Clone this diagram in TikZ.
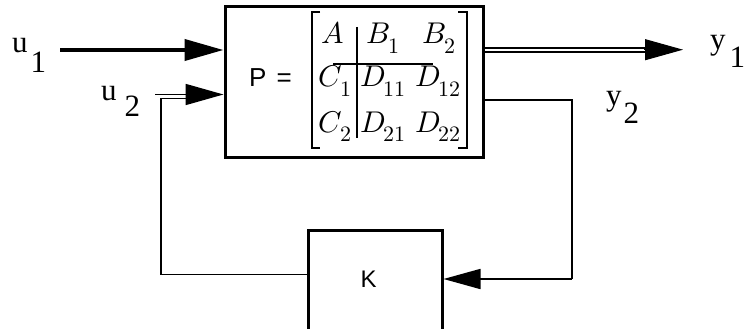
\documentclass[tikz,border=0pt]{standalone}
\usepackage{fontspec}
\setmainfont{Liberation Serif}
\newfontfamily\helv{Liberation Sans}
\usepackage{unicode-math}
\setmathfont{Latin Modern Math}
\usetikzlibrary{arrows.meta,calc}
\newcommand\msub[2]{$#1$\kern-1.5pt\raisebox{-9.5pt}{\fontsize{22}{22}\selectfont$#2$}}
\begin{document}
\begin{tikzpicture}[x=1pt,y=-1pt,
  blockbox/.style={draw,line width=3pt,inner sep=0pt},
  thinline/.style={line width=1.7pt},
  thickline/.style={line width=4pt},
  bigtip/.style={-{Triangle[length=39pt,width=21pt]}},
  ent/.style={anchor=base west,inner sep=0pt,font=\fontsize{30}{32}\selectfont},
  iolab/.style={anchor=base west,inner sep=0pt,font=\fontsize{31}{34}\selectfont},
  sanslab/.style={inner sep=0pt,font=\helv\fontsize{24}{28}\selectfont}]
\useasboundingbox (0,0) rectangle (747,329);
\clip (0,0) rectangle (747,329);
% blocks
\node[blockbox,minimum width=258pt,minimum height=150pt] (P) at (354,82) {};
\node[blockbox,minimum width=134pt,minimum height=140pt] (K) at (375,300.5) {};
\node[sanslab,anchor=base] (klab) at (368.5,287) {K};
\node[sanslab,anchor=base west,font=\helv\fontsize{26}{28}\selectfont] (plab) at (249,87) {P\hspace{10pt}=};
% matrix entries
\node[ent] (a)   at (321,44) {$A$};
\node[ent] (b1)  at (366,44) {\msub{B}{1}};
\node[ent] (b2)  at (422,44) {\msub{B}{2}};
\node[ent] (c1)  at (318,87) {\msub{C}{1}};
\node[ent] (d11) at (360,87) {\msub{D}{11}};
\node[ent] (d12) at (415,87) {\msub{D}{12}};
\node[ent] (c2)  at (318,132) {\msub{C}{2}};
\node[ent] (d21) at (360,132) {\msub{D}{21}};
\node[ent] (d22) at (415,132) {\msub{D}{22}};
% brackets and partition rules
\draw[line width=2pt] (320,12) -- (312,12) -- (312,148) -- (320,148);
\draw[line width=2pt] (458,12) -- (467,12) -- (467,148) -- (458,148);
\draw[line width=1.6pt] (357,27) -- (357,138);
\draw[line width=1.6pt] (333,64) -- (433,64);
% labels
\node[iolab] (u1) at (12,53) {u\hspace{3pt}\raisebox{-20pt}{1}};
\node[iolab] (u2) at (101,100) {u\hspace{8pt}\raisebox{-17pt}{2}};
\node[iolab] (y1) at (710,50) {y\hspace{4pt}\raisebox{-18pt}{1}};
\node[iolab] (y2) at (606,105) {y\hspace{2pt}\raisebox{-18pt}{2}};
% coordinates
\coordinate (u1s) at (60,50);
\coordinate (u2s) at (155,94.5);
\coordinate (fbc) at (161,98.5);
\coordinate (fbe) at (188,98.5);
\coordinate (y1b) at (645,49.7);
\coordinate (y1t) at (683,49.7);
\coordinate (y2c) at (572,100);
\coordinate (kin) at (572,279);
% connectors
\draw[thickline,bigtip] (u1s) -- (P.west |- u1s);
\draw[thinline,-{Triangle[length=38pt,width=21pt]}] (u2s) -- (P.west |- u2s);
\draw[thinline] (fbe) -- (fbc) |- ([yshift=-45.5pt]K.north west);
\draw[line width=2pt,double,double distance=2pt] (P.east |- y1b) -- (y1b);
\draw[line width=1pt,-{Triangle[length=38pt,width=21pt]}] ([xshift=-1pt]y1b) -- (y1t);
\draw[thinline] (P.east |- y2c) -- (y2c) -- (kin);
\draw[thinline,-{Triangle[length=37pt,width=20pt]}] (kin) -- (K.east |- kin);
\end{tikzpicture}
\end{document}
